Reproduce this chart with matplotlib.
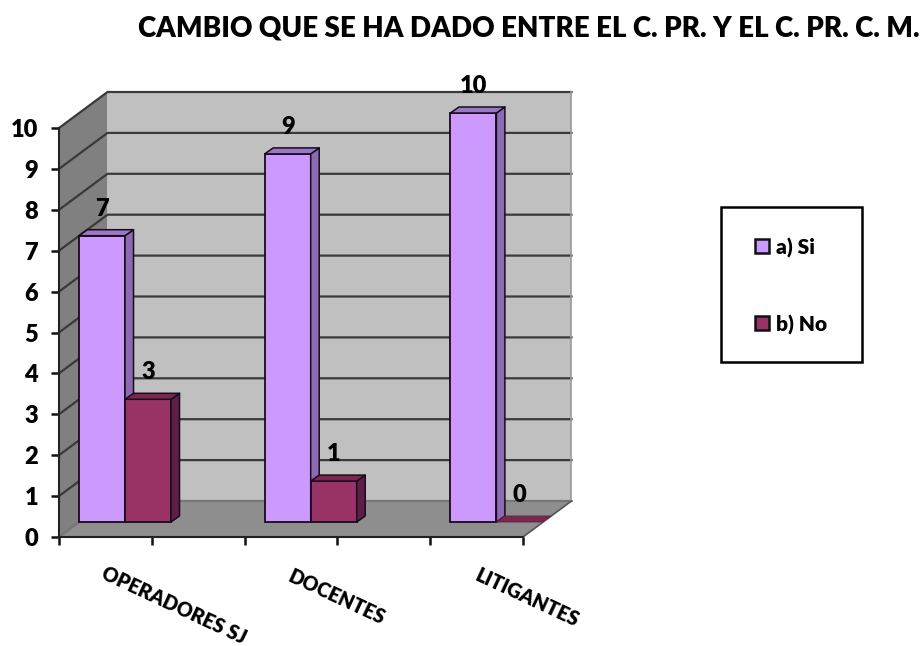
import matplotlib
matplotlib.use("Agg")
import matplotlib.pyplot as plt
from matplotlib.patches import Polygon, Rectangle

plt.rcParams['font.family'] = ['Lato', 'DejaVu Sans']
plt.rcParams['font.weight'] = 'heavy'

title = "CAMBIO QUE SE HA DADO ENTRE EL C. PR. Y EL C. PR. C. M."
categories = ["OPERADORES SJ", "DOCENTES", "LITIGANTES"]
si_values = [7, 9, 10]
no_values = [3, 1, 0]
series_names = ["a) Si", "b) No"]

W, H = 923, 646
L_PX, R_PX, B_PX, T_PX = 59, 523, 537, 128
CAT_PX = 185.7
UNIT_PX = (B_PX - T_PX) / 10
x0 = (L_PX - 125) / CAT_PX
x1 = (R_PX - 125) / CAT_PX

fig = plt.figure(figsize=(W / 100, H / 100), dpi=100, facecolor='white')
ax = fig.add_axes([L_PX / W, 1 - B_PX / H, (R_PX - L_PX) / W, (B_PX - T_PX) / H])
ax.set_xlim(x0, x1)
ax.set_ylim(0, 10)
ax.patch.set_visible(False)

# depth of the chart box and of the bars, in data units
DX, DY = 48.5 / CAT_PX, 36 / UNIT_PX
BDX, BDY = 8.5 / CAT_PX, 6 / UNIT_PX
BASE = 15 / UNIT_PX
BW = 46 / CAT_PX


def poly(pts, fc, ec='none', lw=0, z=1):
    ax.add_patch(Polygon(pts, closed=True, facecolor=fc, edgecolor=ec, linewidth=lw,
                         zorder=z, clip_on=False, joinstyle='round'))


# walls
poly([(x0, 0), (x0 + DX, DY), (x0 + DX, 10 + DY), (x0, 10)], '#808080', z=1)
poly([(x0 + DX, DY), (x1 + DX, DY), (x1 + DX, 10 + DY), (x0 + DX, 10 + DY)], '#C0C0C0', z=1)
poly([(x0, 0), (x1, 0), (x1 + DX, DY), (x0 + DX, DY)], '#8E8E8E', z=1)

# grid lines
for v in range(0, 11):
    col = '#3a3a3a' if 0 < v else '#777777'
    ax.plot([x0, x0 + DX, x1 + DX], [v, v + DY, v + DY], color=col, lw=1.6, zorder=2,
            clip_on=False, solid_joinstyle='round')
ax.plot([x1 + DX, x1 + DX], [DY, 10 + DY], color='#999999', lw=1.2, zorder=2, clip_on=False)
ax.plot([x1, x1 + DX], [0, DY], color='#555555', lw=1.2, zorder=2, clip_on=False)


def bar3d(left, val, face, side, top, z):
    right = left + BW
    b, t = BASE, BASE + val
    if val > 0:
        ax.bar(left, val, width=BW, bottom=b, align='edge', color=face, edgecolor='#1a0a1a',
               linewidth=1.3, zorder=z, clip_on=False)
        poly([(right, b), (right + BDX, b + BDY), (right + BDX, t + BDY), (right, t)], side,
             '#1a0a1a', 1.1, z)
    poly([(left, t), (left + BDX, t + BDY), (right + BDX, t + BDY), (right, t)], top,
         '#1a0a1a' if val > 0 else '#5E1F46', 1.1 if val > 0 else 0.6, z)


for i, (s, n) in enumerate(zip(si_values, no_values)):
    bar3d(i - BW, s, '#CC99FF', '#8C6BB5', '#9A77C8', 5)
    bar3d(i, n, '#993366', '#5E1F46', '#7A2850', 6)
    ax.text(i - BW / 2, s + BASE + 27 / UNIT_PX, str(s), ha='center', va='center',
            fontsize=17, color='black', zorder=10, clip_on=False)
    ax.text(i + BW / 2, n + BASE + 27 / UNIT_PX, str(n), ha='center', va='center',
            fontsize=17, color='black', zorder=10, clip_on=False)

# axes
for name in ('top', 'right'):
    ax.spines[name].set_visible(False)
for name in ('left', 'bottom'):
    ax.spines[name].set_linewidth(1.5)
    ax.spines[name].set_color('#222222')
    ax.spines[name].set_zorder(3)
ax.set_yticks(range(0, 11))
ax.set_yticklabels([str(v) for v in range(0, 11)], fontsize=17, color='black')
ax.tick_params(axis='y', length=6, width=1.8, pad=9, color='#111111')
ax.set_xticks([x0 + k * (x1 - x0) / 5 for k in range(6)])
ax.set_xticklabels([])
ax.tick_params(axis='x', length=6, width=1.8, color='#111111')

# category labels
label_centers = [(174, 605), (337, 597), (527, 598)]
for lab, (px, py) in zip(categories, label_centers):
    fig.text(px / W, 1 - py / H, lab, rotation=-25, rotation_mode='anchor', ha='center',
             va='center', fontsize=14.2, color='black')

# title
fig.text(529 / W, 1 - 28 / H, title, ha='center', va='center', fontsize=20, color='black')

# legend box
fig.add_artist(Rectangle((721 / W, 1 - 362 / H), 141 / W, 155 / H, transform=fig.transFigure,
                         facecolor='white', edgecolor='black', linewidth=1.8))
for name, col, py in zip(series_names, ['#CC99FF', '#993366'], [246, 323]):
    fig.add_artist(Rectangle((755 / W, 1 - (py + 7) / H), 14 / W, 14 / H,
                             transform=fig.transFigure, facecolor=col, edgecolor='#111111',
                             linewidth=1.8))
    fig.text(776 / W, 1 - (py + 2) / H, name, ha='left', va='center', fontsize=15, color='black')

fig.savefig('out.png', dpi=100, facecolor='white')
